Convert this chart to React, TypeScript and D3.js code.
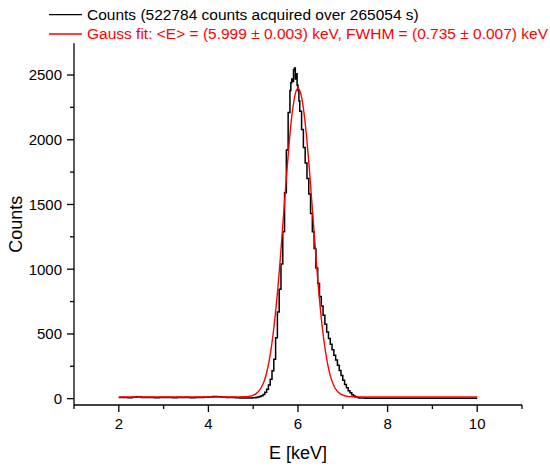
import React from 'react';
import * as d3 from 'd3';

// background bins below the peak (0.1 keV wide)
const lowEnergy = [2.0, 2.1, 2.2, 2.3, 2.4, 2.5, 2.6, 2.7, 2.8, 2.9, 3.0, 3.1, 3.2, 3.3, 3.4, 3.5, 3.6, 3.7, 3.8, 3.9, 4.0, 4.1, 4.2, 4.3, 4.4, 4.5, 4.6, 4.7, 4.8];
const lowCounts = [8, 9, 7, 10, 14, 9, 8, 9, 7, 8, 9, 8, 7, 8, 9, 8, 7, 8, 9, 10, 13, 16, 14, 10, 9, 8, 7, 6, 6];

// peak bins
const peakEnergy = [
  4.9, 4.94, 4.98, 5.02, 5.06, 5.1, 5.14, 5.18, 5.22, 5.26, 5.3, 5.34, 5.38, 5.42, 5.46, 5.5,
  5.54, 5.58, 5.62, 5.66, 5.7, 5.74, 5.78, 5.82, 5.84, 5.86, 5.88, 5.9, 5.92, 5.94, 5.96, 5.98,
  6.0, 6.02, 6.04, 6.08, 6.12, 6.16, 6.2, 6.24, 6.28, 6.32, 6.36, 6.4, 6.44, 6.48, 6.52, 6.56,
  6.6, 6.64, 6.68, 6.72, 6.76, 6.8, 6.84, 6.88, 6.92, 6.96, 7.0, 7.04, 7.08, 7.12, 7.16, 7.2,
  7.24, 7.28, 7.32, 7.36,
];
const peakCounts = [
  6, 5, 7, 7, 9, 12, 16, 23, 32, 49, 72, 106, 150, 215, 305, 470,
  670, 845, 1040, 1290, 1590, 1920, 2210, 2380, 2440, 2470, 2450, 2540, 2555, 2470, 2510, 2420,
  2380, 2300, 2220, 2080, 1940, 1820, 1700, 1580, 1430, 1290, 1160, 1010, 890, 790, 715, 645,
  575, 515, 465, 420, 378, 335, 298, 258, 218, 178, 142, 110, 84, 62, 45, 31,
  20, 12, 8, 6,
];

// background bins above the peak
const highEnergy = [7.4, 7.5, 7.6, 7.7, 7.8, 7.9, 8.0, 8.1, 8.2, 8.3, 8.4, 8.5, 8.6, 8.7, 8.8, 8.9, 9.0, 9.1, 9.2, 9.3, 9.4, 9.5, 9.6, 9.7, 9.8, 9.9, 10.0];
const highCounts = [5, 4, 4, 3, 4, 3, 3, 4, 3, 3, 4, 3, 3, 3, 4, 3, 3, 4, 3, 3, 3, 4, 3, 3, 3, 3, 3];

// Gauss fit curve
const fitEnergy = [2.0, 4.6, 4.8, 4.9, 5.0, 5.1, 5.15, 5.2, 5.25, 5.3, 5.35, 5.4, 5.45, 5.5, 5.55, 5.6, 5.65, 5.7, 5.75, 5.8, 5.85, 5.9, 5.95, 6.0, 6.05, 6.1, 6.15, 6.2, 6.25, 6.3, 6.35, 6.4, 6.45, 6.5, 6.55, 6.6, 6.65, 6.7, 6.75, 6.8, 6.85, 6.9, 7.0, 7.1, 7.2, 7.4, 10.0];
const fitCounts = [13, 13, 15, 18, 26, 50, 70, 100, 140, 200, 280, 385, 515, 670, 850, 1060, 1290, 1520, 1750, 1960, 2150, 2280, 2370, 2397, 2370, 2290, 2160, 1990, 1790, 1560, 1330, 1100, 880, 690, 530, 395, 290, 205, 145, 100, 70, 50, 27, 18, 15, 13, 13];

const xMajor = [2, 4, 6, 8, 10];
const xMinor = [1, 3, 5, 7, 9, 11];
const yMajor = [0, 500, 1000, 1500, 2000, 2500];
const yMinor = [250, 750, 1250, 1750, 2250];

const legendLabels = [
  'Counts (522784 counts acquired over 265054 s)',
  'Gauss fit: <E> = (5.999 ± 0.003) keV, FWHM = (0.735 ± 0.007) keV',
];

const W = 550;
const H = 469;
const font = "Arial, 'Liberation Sans', sans-serif";

export default function App() {
  const x = d3.scaleLinear().domain([1, 11]).range([74, 522]);
  const y = d3.scaleLinear().domain([-49, 2745]).range([405, 43.3]);

  const hist: [number, number][] = [
    ...lowEnergy.map((e, i) => [e, lowCounts[i]] as [number, number]),
    ...peakEnergy.map((e, i) => [e, peakCounts[i]] as [number, number]),
    ...highEnergy.map((e, i) => [e, highCounts[i]] as [number, number]),
  ];
  const fit: [number, number][] = fitEnergy.map((e, i) => [e, fitCounts[i]]);

  const stepLine = d3.line<[number, number]>()
    .x(d => x(d[0]))
    .y(d => y(d[1]))
    .curve(d3.curveStepAfter);
  const fitLine = d3.line<[number, number]>()
    .x(d => x(d[0]))
    .y(d => y(d[1]))
    .curve(d3.curveMonotoneX);

  const [x0, x1] = x.range();
  const [yb, yt] = y.range();

  return (
    <svg width={W} height={H} style={{ position: 'absolute', left: 0, top: 0, background: '#fff' }} fontFamily={font}>
      {/* legend */}
      <line x1={49} x2={82} y1={14.7} y2={14.7} stroke="#000" strokeWidth={1.3} />
      <text x={87} y={19.5} fontSize={15.5} fill="#000">{legendLabels[0]}</text>
      <line x1={49} x2={82} y1={34} y2={34} stroke="#ff0000" strokeWidth={1.3} />
      <text x={87} y={39} fontSize={15.5} fill="#ff0000">{legendLabels[1]}</text>

      {/* data */}
      <path d={stepLine(hist) ?? ''} fill="none" stroke="#000" strokeWidth={1.5} />
      <path d={fitLine(fit) ?? ''} fill="none" stroke="#ff0000" strokeWidth={1.4} />

      {/* axes */}
      <g stroke="#000" strokeWidth={1.3}>
        <line x1={x0} x2={x1} y1={yb} y2={yb} />
        <line x1={x0} x2={x0} y1={yb} y2={yt} />
        {xMajor.map(v => <line key={'xM' + v} x1={x(v)} x2={x(v)} y1={yb} y2={yb + 7} />)}
        {xMinor.map(v => <line key={'xm' + v} x1={x(v)} x2={x(v)} y1={yb} y2={yb + 4} />)}
        {yMajor.map(v => <line key={'yM' + v} x1={x0} x2={x0 - 7} y1={y(v)} y2={y(v)} />)}
        {yMinor.map(v => <line key={'ym' + v} x1={x0} x2={x0 - 4} y1={y(v)} y2={y(v)} />)}
      </g>
      {xMajor.map(v => (
        <text key={'xl' + v} x={x(v)} y={429} fontSize={15} textAnchor="middle">{v}</text>
      ))}
      {yMajor.map(v => (
        <text key={'yl' + v} x={62} y={y(v)} dy="0.36em" fontSize={15} textAnchor="end">{v}</text>
      ))}
      <text x={(x0 + x1) / 2} y={459} fontSize={18} textAnchor="middle">E [keV]</text>
      <text transform={`translate(21.5,${(yb + yt) / 2}) rotate(-90)`} fontSize={18} textAnchor="middle">Counts</text>
    </svg>
  );
}
